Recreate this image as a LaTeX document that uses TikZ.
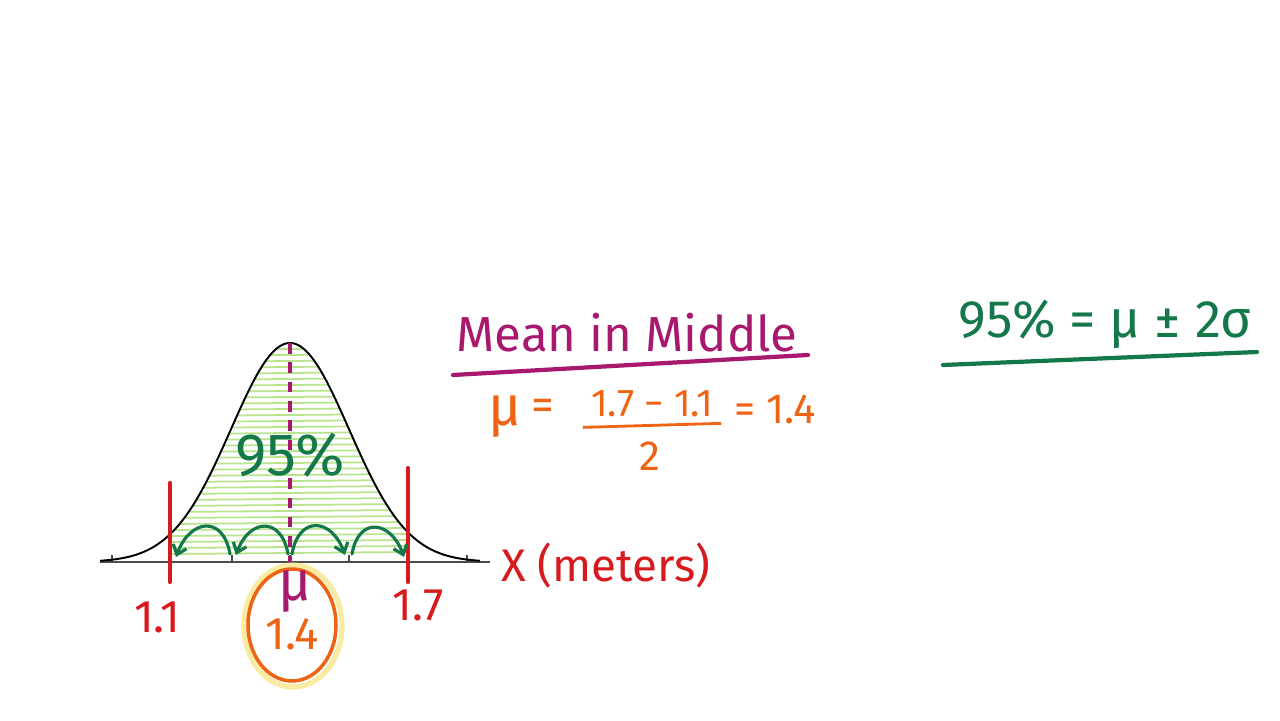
\documentclass[tikz,border=0pt]{standalone}
\usepackage{fontspec}
\setmainfont{Fira Sans}
\usepackage{xcolor}
\definecolor{nrMagenta}{HTML}{A8186E}
\definecolor{nrOrange}{HTML}{EE6414}
\definecolor{nrRed}{HTML}{D71A1E}
\definecolor{nrGreen}{HTML}{14784A}
\definecolor{nrLime}{HTML}{B9E38C}
\definecolor{nrYellow}{HTML}{F6E27A}
\usetikzlibrary{calc,arrows.meta}
\newcommand\handsize[1]{\fontsize{#1}{#1}\selectfont}

\begin{document}
\begin{tikzpicture}[x=0.02cm, y=0.02cm, >={Straight Barb[length=5pt,width=8pt]},
    redbar/.style={nrRed, line width=2.4pt, line cap=round},
    hop/.style={nrGreen, line width=1.8pt, ->, line cap=round},
    hatch/.style={nrLime, line width=1pt},
    underline/.style={line width=2.4pt, line cap=round}]
  \useasboundingbox (0,0) rectangle (1280,720);
  % ------- bell curve -------
  \begin{scope}
    \clip (172,158) -- plot[domain=172:406, samples=60] (\x,{158+219*exp(-0.5*((\x-290)/59)^2)}) -- (406,158) -- cycle;
    \foreach \h in {166,172,...,372}
      \draw[hatch] (172,\h) -- (406,{\h+2});
  \end{scope}
  \draw[black!70, line width=0.6pt] (100,158) -- (490,158);
  \foreach \t/\x in {t0/112,t1/232,mid/290,t3/349,t4/467} {
    \coordinate (\t) at (\x,158);
    \draw[black!70, line width=0.6pt] (\t) -- ++(0,7);
  }
  \draw[black, line width=1.1pt] plot[domain=100:480, samples=120] (\x,{158+219*exp(-0.5*((\x-290)/59)^2)});
  \draw[nrMagenta, line width=2.4pt, dash pattern=on 6pt off 5pt] (290,377) -- (mid);
  \node[nrGreen] (pct) at (290,265) {\handsize{34}95\%};
  % ------- two sigma limits -------
  \coordinate (lo) at (176,163);
  \coordinate (hi) at (404,163);
  \draw[redbar] (170,237) -- (170,138);
  \draw[redbar] (408,252) -- (408,138);
  \draw[hop] ($(t1)+(-2,8)$) to[out=100, in=70, looseness=1.9] (lo);
  \draw[hop] ($(mid)+(-2,8)$) to[out=100, in=70, looseness=1.9] ($(t1)+(4,7)$);
  \draw[hop] ($(mid)+(2,8)$) to[out=80, in=110, looseness=1.9] ($(t3)+(-4,7)$);
  \draw[hop] ($(t3)+(3,8)$) to[out=80, in=110, looseness=1.9] (hi);
  \node[nrRed] (lolab) at (157,103) {\handsize{26}1.1};
  \node[nrRed] (hilab) at (418,115) {\handsize{26}1.7};
  % ------- mean circled -------
  \draw[nrYellow, line width=3pt, opacity=0.7] (293,94) ellipse [x radius=49, y radius=61];
  \draw[nrOrange, line width=2pt] (292,95) ellipse [x radius=44, y radius=56];
  \node[nrMagenta] (mu) at (295,128) {\handsize{32}μ};
  \node[nrOrange] (muval) at (292,86) {\handsize{26}1.4};
  \node[nrRed, anchor=west] (xlab) at (495,154) {\handsize{26}X (meters)};
  % ------- mean in middle -------
  \node[nrMagenta] (title) at (627,387) {\handsize{28}Mean in Middle};
  \draw[nrMagenta, underline] (453,345) -- (808,365);
  \node[nrOrange] (fmu) at (505,303) {\handsize{32}μ};
  \node[nrOrange] (feq) at (543,310) {\handsize{26}=};
  \node[nrOrange] (fnum) at (652,316) {\handsize{22}1.7 − 1.1};
  \node[nrOrange] (fden) at (650,264) {\handsize{24}2};
  \draw[nrOrange, line width=1.6pt] ($(fnum.south west)+(-2,-4)$) -- ($(fnum.south east)+(2,0)$);
  \node[nrOrange, anchor=west] (fres) at (728,311) {\handsize{24}= 1.4};
  % ------- rule -------
  \node[nrGreen] (rule) at (1105,396) {\handsize{30}95\% = μ ± 2σ};
  \draw[nrGreen, underline] (943,355) -- (1257,368);
\end{tikzpicture}
\end{document}
